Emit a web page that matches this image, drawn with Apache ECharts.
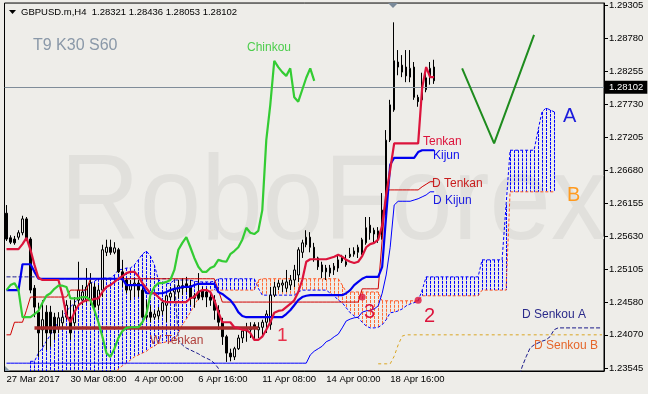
<!DOCTYPE html>
<html><head><meta charset="utf-8">
<script src="https://cdn.jsdelivr.net/npm/echarts@6/dist/echarts.min.js"></script>
<style>html,body{margin:0;padding:0;background:#eeede9;}#c{width:648px;height:394px;}</style>
</head><body><div id="c"></div>
<script>
// ---- data (prices) ----
const timeLabels = [[0,'27 Mar 2017'],[16,'30 Mar 08:00'],[32,'4 Apr 00:00'],[48,'6 Apr 16:00'],[64,'11 Apr 08:00'],[80,'14 Apr 00:00'],[96,'18 Apr 16:00']];
const priceTicks = [1.23545,1.24070,1.24580,1.25105,1.25630,1.26155,1.26680,1.27205,1.27730,1.28255,1.28780,1.29305];
const lastPrice = 1.28102;
// [open, close, low, high]
const candles = [
[1.2600,1.2559,1.2556,1.2613],[1.2561,1.2554,1.2551,1.2565],[1.2559,1.2553,1.2550,1.2564],[1.2562,1.2569,1.2558,1.2573],
[1.2569,1.2591,1.2565,1.2596],[1.2591,1.2559,1.2556,1.2594],[1.2559,1.2478,1.2473,1.2562],[1.2481,1.2451,1.2435,1.2486],
[1.2443,1.2410,1.2372,1.2458],[1.2415,1.2431,1.2388,1.2462],[1.2443,1.2410,1.2383,1.2454],[1.2443,1.2410,1.2388,1.2453],
[1.2435,1.2410,1.2399,1.2442],[1.2418,1.2434,1.2410,1.2443],[1.2426,1.2435,1.2419,1.2446],[1.2435,1.2454,1.2431,1.2462],
[1.2435,1.2410,1.2399,1.2462],[1.2426,1.2454,1.2421,1.2467],[1.2462,1.2478,1.2454,1.2523],[1.2462,1.2475,1.2454,1.2486],
[1.2462,1.2483,1.2458,1.2513],[1.2462,1.2489,1.2454,1.2505],[1.2483,1.2451,1.2446,1.2489],[1.2454,1.2478,1.2446,1.2486],
[1.2478,1.2542,1.2467,1.2550],[1.2538,1.2546,1.2532,1.2558],[1.2546,1.2538,1.2534,1.2558],[1.2538,1.2545,1.2535,1.2554],
[1.2542,1.2507,1.2505,1.2545],[1.2507,1.2494,1.2483,1.2526],[1.2494,1.2478,1.2473,1.2497],[1.2478,1.2486,1.2462,1.2494],
[1.2486,1.2489,1.2467,1.2497],[1.2489,1.2478,1.2467,1.2494],[1.2478,1.2435,1.2434,1.2481],[1.2438,1.2435,1.2431,1.2462],
[1.2443,1.2435,1.2427,1.2454],[1.2435,1.2440,1.2431,1.2446],[1.2437,1.2445,1.2431,1.2451],[1.2445,1.2458,1.2438,1.2462],
[1.2454,1.2469,1.2427,1.2470],[1.2467,1.2473,1.2462,1.2483],[1.2475,1.2480,1.2459,1.2486],[1.2475,1.2485,1.2465,1.2494],
[1.2481,1.2485,1.2470,1.2497],[1.2488,1.2483,1.2475,1.2499],[1.2485,1.2465,1.2454,1.2494],[1.2469,1.2465,1.2450,1.2473],
[1.2475,1.2465,1.2462,1.2505],[1.2477,1.2467,1.2462,1.2483],[1.2475,1.2467,1.2451,1.2481],[1.2467,1.2462,1.2453,1.2475],
[1.2462,1.2446,1.2431,1.2470],[1.2446,1.2427,1.2415,1.2454],[1.2427,1.2404,1.2391,1.2434],[1.2404,1.2378,1.2364,1.2407],
[1.2378,1.2372,1.2365,1.2385],[1.2372,1.2385,1.2367,1.2388],[1.2385,1.2402,1.2383,1.2407],[1.2402,1.2413,1.2394,1.2418],
[1.2413,1.2418,1.2396,1.2426],[1.2415,1.2419,1.2402,1.2427],[1.2423,1.2419,1.2399,1.2427],[1.2415,1.2419,1.2402,1.2427],
[1.2419,1.2427,1.2404,1.2431],[1.2427,1.2440,1.2410,1.2446],[1.2423,1.2470,1.2415,1.2483],[1.2470,1.2483,1.2467,1.2491],
[1.2483,1.2489,1.2478,1.2494],[1.2486,1.2489,1.2475,1.2494],[1.2481,1.2491,1.2475,1.2510],[1.2486,1.2494,1.2478,1.2502],
[1.2494,1.2510,1.2483,1.2518],[1.2502,1.2542,1.2491,1.2546],[1.2538,1.2553,1.2529,1.2558],[1.2550,1.2562,1.2546,1.2573],
[1.2562,1.2546,1.2538,1.2570],[1.2546,1.2529,1.2523,1.2553],[1.2529,1.2515,1.2510,1.2531],[1.2518,1.2507,1.2497,1.2523],
[1.2513,1.2507,1.2494,1.2518],[1.2505,1.2513,1.2499,1.2518],[1.2510,1.2516,1.2502,1.2521],[1.2513,1.2526,1.2507,1.2534],
[1.2529,1.2524,1.2521,1.2534],[1.2518,1.2523,1.2515,1.2534],[1.2531,1.2535,1.2529,1.2545],[1.2535,1.2540,1.2531,1.2546],
[1.2538,1.2546,1.2529,1.2550],[1.2537,1.2558,1.2534,1.2561],[1.2553,1.2577,1.2550,1.2594],[1.2581,1.2569,1.2558,1.2594],
[1.2573,1.2567,1.2554,1.2577],[1.2564,1.2572,1.2553,1.2578],[1.2565,1.2605,1.2558,1.2632],[1.2602,1.2716,1.2597,1.2732],
[1.2716,1.2772,1.2713,1.2780],[1.2764,1.2842,1.2761,1.2903],[1.2840,1.2832,1.2819,1.2859],[1.2835,1.2824,1.2816,1.2851],
[1.2832,1.2818,1.2808,1.2859],[1.2816,1.2830,1.2808,1.2859],[1.2832,1.2784,1.2780,1.2840],[1.2784,1.2777,1.2769,1.2788],
[1.2780,1.2796,1.2772,1.2823],[1.2796,1.2815,1.2792,1.2827],[1.2816,1.2830,1.2804,1.2840],[1.28321,1.28102,1.28053,1.28436]
];
const tenkan = [
1.2543,1.2543,1.2543,1.2543,1.2551,1.2561,1.2542,1.2518,1.2497,1.2494,1.2494,1.2494,1.2494,1.2494,1.2470,1.2438,
1.2427,1.2443,1.2454,1.2459,1.2462,1.2462,1.2464,1.2465,1.2475,1.2483,1.2486,1.2491,1.2496,1.2500,1.2505,1.2507,
1.2507,1.2500,1.2489,1.2481,1.2473,1.2473,1.2467,1.2461,1.2459,1.2459,1.2459,1.2459,1.2459,1.2459,1.2465,1.2467,
1.2475,1.2478,1.2478,1.2475,1.2462,1.2443,1.2427,1.2427,1.2427,1.2419,1.2418,1.2415,1.2415,1.2410,1.2399,1.2399,
1.2404,1.2415,1.2427,1.2442,1.2445,1.2446,1.2451,1.2456,1.2462,1.2475,1.2494,1.2523,1.2527,1.2527,1.2527,1.2527,
1.2527,1.2529,1.2531,1.2534,1.2531,1.2526,1.2523,1.2521,1.2523,1.2532,1.2546,1.2551,1.2553,1.2558,1.2581,1.2629,
1.2669,1.2711,1.2711,1.2711,1.2711,1.2711,1.2711,1.2711,1.2799,1.2832,1.2816,1.2816
];
const kijun = [
1.2478,1.2478,1.2478,1.2478,1.2519,1.2519,1.2519,1.2507,1.2496,1.2496,1.2496,1.2496,1.2496,1.2496,1.2496,1.2496,
1.2496,1.2496,1.2496,1.2496,1.2496,1.2496,1.2496,1.2496,1.2496,1.2496,1.2496,1.2496,1.2496,1.2496,1.2486,1.2486,
1.2486,1.2486,1.2486,1.2473,1.2473,1.2473,1.2473,1.2473,1.2475,1.2478,1.2480,1.2481,1.2483,1.2483,1.2483,1.2486,
1.2488,1.2488,1.2488,1.2488,1.2488,1.2475,1.2472,1.2467,1.2462,1.2454,1.2443,1.2437,1.2435,1.2435,1.2435,1.2435,
1.2435,1.2435,1.2435,1.2435,1.2435,1.2435,1.2440,1.2446,1.2454,1.2462,1.2467,1.2469,1.2470,1.2470,1.2470,1.2470,
1.2470,1.2470,1.2470,1.2470,1.2470,1.2473,1.2478,1.2486,1.2491,1.2496,1.2499,1.2499,1.2499,1.2499,1.2515,1.2597,
1.2677,1.2688,1.2688,1.2688,1.2688,1.2688,1.2688,1.2697,1.2700,1.2700,1.2700,1.2700
];
const senkouA = [
null,null,null,null,null,null,1.2365,1.2365,1.2378,1.2386,1.2397,1.2407,1.2418,1.2427,1.2435,1.2445,
1.2451,1.2458,1.2464,1.2472,1.2483,1.2489,1.2492,1.2496,1.2497,1.2497,1.2497,1.2502,1.2510,1.2511,1.2513,1.2513,
1.2518,1.2526,1.2535,1.2540,1.2532,1.2518,1.2494,1.2491,1.2488,1.2489,1.2494,1.2494,1.2494,1.2494,1.2494,1.2492,
1.2491,1.2491,1.2491,1.2491,1.2492,1.2496,1.2496,1.2496,1.2496,1.2496,1.2496,1.2496,1.2496,1.2496,1.2496,1.2481,
1.2470,1.2470,1.2470,1.2470,1.2470,1.2470,1.2470,1.2470,1.2470,1.2475,1.2478,1.2478,1.2478,1.2478,1.2478,1.2478,
1.2478,1.2473,1.2469,1.2462,1.2458,1.2450,1.2442,1.2437,1.2434,1.2427,1.2421,1.2418,1.2418,1.2419,1.2423,1.2431,
1.2442,1.2443,1.2445,1.2448,1.2453,1.2456,1.2458,1.2461,1.2478,1.2499,1.2499,1.2499,1.2499,1.2499,1.2499,1.2499,
1.2499,1.2499,1.2499,1.2499,1.2499,1.2499,1.2499,1.2526,1.2526,1.2526,1.2526,1.2526,1.2526,1.2613,1.2700,1.2700,
1.2700,1.2700,1.2700,1.2700,1.2700,1.2732,1.2761,1.2767,1.2764,1.2761
];
const senkouB = [
1.2340,1.2340,1.2340,1.2340,1.2340,1.2340,1.2340,1.2340,1.2340,1.2340,1.2340,1.2340,1.2340,1.2340,1.2340,1.2340,
1.2340,1.2340,1.2340,1.2340,1.2340,1.2340,1.2340,1.2340,1.2340,1.2340,1.2340,1.2340,1.2353,1.2358,1.2362,1.2367,
1.2372,1.2375,1.2378,1.2381,1.2386,1.2389,1.2394,1.2394,1.2396,1.2396,1.2399,1.2410,1.2423,1.2432,1.2443,1.2454,
1.2465,1.2473,1.2478,1.2478,1.2478,1.2478,1.2478,1.2478,1.2478,1.2478,1.2478,1.2478,1.2478,1.2478,1.2478,1.2494,
1.2496,1.2496,1.2496,1.2496,1.2496,1.2496,1.2496,1.2496,1.2496,1.2496,1.2496,1.2496,1.2496,1.2496,1.2496,1.2496,
1.2496,1.2496,1.2496,1.2496,1.2486,1.2475,1.2475,1.2475,1.2475,1.2475,1.2475,1.2475,1.2475,1.2475,1.2461,1.2461,
1.2461,1.2461,1.2461,1.2461,1.2461,1.2461,1.2461,1.2461,1.2469,1.2469,1.2469,1.2469,1.2469,1.2469,1.2469,1.2469,
1.2469,1.2469,1.2469,1.2469,1.2469,1.2469,1.2469,1.2478,1.2478,1.2478,1.2478,1.2478,1.2478,1.2478,1.2634,1.2634,
1.2634,1.2634,1.2634,1.2634,1.2634,1.2634,1.2634,1.2634,1.2634,1.2634
];
const dTenkan = [
1.2407,1.2407,1.2427,1.2427,1.2427,1.2446,1.2467,1.2467,1.2467,1.2467,1.2467,1.2467,1.2467,1.2467,1.2467,1.2467,
1.2478,1.2478,1.2478,1.2478,1.2478,1.2496,1.2496,1.2496,1.2496,1.2496,1.2496,1.2496,1.2496,1.2496,1.2496,1.2496,
1.2496,1.2496,1.2496,1.2496,1.2496,1.2496,1.2496,1.2496,1.2496,1.2496,1.2496,1.2496,1.2496,1.2496,1.2496,1.2496,
1.2496,1.2496,1.2496,1.2496,1.2496,1.2478,1.2459,1.2459,1.2459,1.2459,1.2459,1.2459,1.2459,1.2459,1.2459,1.2459,
1.2459,1.2459,1.2459,1.2459,1.2459,1.2459,1.2459,1.2459,1.2459,1.2459,1.2459,1.2459,1.2459,1.2459,1.2459,1.2459,
1.2459,1.2459,1.2459,1.2459,1.2459,1.2459,1.2459,1.2459,1.2459,1.2480,1.2480,1.2480,1.2480,1.2480,1.2558,1.2637,
1.2637,1.2637,1.2637,1.2637,1.2637,1.2637,1.2637,1.2637,1.2642,1.2646,1.2650,1.2650
];
const dKijun = [
1.2362,1.2362,1.2362,1.2362,1.2362,1.2362,1.2362,1.2362,1.2362,1.2362,1.2362,1.2362,1.2362,1.2362,1.2362,1.2362,
1.2362,1.2362,1.2362,1.2362,1.2362,1.2362,1.2362,1.2362,1.2362,1.2362,1.2362,1.2362,1.2362,1.2362,1.2362,1.2362,
1.2362,1.2362,1.2362,1.2362,1.2362,1.2362,1.2362,1.2362,1.2362,1.2362,1.2362,1.2362,1.2362,1.2362,1.2362,1.2362,
1.2362,1.2362,1.2362,1.2362,1.2362,1.2362,1.2362,1.2362,1.2362,1.2362,1.2362,1.2362,1.2362,1.2362,1.2362,1.2362,
1.2362,1.2362,1.2362,1.2362,1.2362,1.2362,1.2362,1.2362,1.2362,1.2362,1.2362,1.2362,1.2375,1.2381,1.2385,1.2389,
1.2396,1.2399,1.2404,1.2408,1.2418,1.2429,1.2432,1.2434,1.2435,1.2443,1.2445,1.2446,1.2448,1.2453,1.2473,1.2502,
1.2546,1.2613,1.2619,1.2619,1.2619,1.2619,1.2621,1.2623,1.2626,1.2629,1.2634,1.2634
];
const dSenkouA = [
1.2499,1.2499,1.2499,1.2499,1.2499,1.2499,1.2499,1.2499,1.2499,1.2496,1.2496,1.2496,1.2496,1.2496,1.2496,1.2496,
1.2496,1.2496,1.2496,1.2496,1.2496,1.2496,1.2496,1.2496,1.2496,1.2496,1.2496,1.2496,1.2496,1.2496,1.2496,1.2496,
1.2496,1.2496,1.2496,1.2496,1.2496,1.2496,1.2496,1.2496,1.2496,1.2496,1.2496,1.2399,1.2391,1.2386,1.2383,1.2380,
1.2377,1.2373,1.2370,1.2367,1.2362,1.2354,1.2335,null,null,null,null,null,null,null,null,null,
null,null,null,null,null,null,null,null,null,null,null,null,null,null,null,null,
null,null,null,null,null,null,null,null,null,null,null,null,null,null,null,null,
null,null,null,null,null,null,null,null,null,null,null,null,null,null,null,null,
null,null,null,null,null,null,null,null,null,null,null,null,null,null,null,null,
1.2335,1.2356,1.2372,1.2386,1.2391,1.2394,1.2397,1.2399,1.2404,1.2415,1.2418,1.2418,1.2418,1.2418,1.2418,1.2418,
1.2418,1.2418,1.2418,1.2418,1.2418,1.2418
];
const dSenkouB = [
null,null,null,null,null,null,null,null,null,null,null,null,null,null,null,null,
null,null,null,null,null,null,null,null,null,null,null,null,null,null,null,null,
null,null,null,null,null,null,null,null,null,null,null,null,null,null,null,null,
null,null,null,null,null,null,null,null,null,null,null,null,null,null,null,null,
null,null,null,null,null,null,null,null,null,null,null,null,null,null,null,null,
null,null,null,null,null,null,null,null,null,null,null,null,null,1.2361,1.2361,1.2361,
1.2361,1.2373,1.2391,1.2405,1.2407,1.2407,1.2407,1.2407,1.2407,1.2407,1.2407,1.2407,1.2407,1.2407,1.2407,1.2407,
1.2407,1.2407,1.2407,1.2407,1.2407,1.2407,1.2407,1.2407,1.2407,1.2407,1.2407,1.2407,1.2407,1.2407,1.2407,1.2407,
1.2407,1.2407,1.2407,1.2407,1.2407,1.2407,1.2407,1.2407,1.2407,1.2407,1.2407,1.2407,1.2407,1.2407,1.2407,1.2407,
1.2407,1.2407,1.2407,1.2407,1.2407,1.2407
];
const wTenkan = [[7,1.2418],[63,1.2418]];
const forecastPath = [[114,1.2830],[122,1.2711],[132,1.2883]];
const crossPoints = [[89,1.2467],[103,1.2462]];
const CHINKOU_SHIFT = 30;
const BAR_COUNT = 150;

// ---- build ----
const BG = '#eeede9';
const FONT = '"Liberation Sans", Arial, sans-serif';
const labelMap = {}; timeLabels.forEach(t => labelMap[t[0]] = t[1]);
const cats = Array.from({length: BAR_COUNT}, (_, i) => labelMap[i] || '');
const chinkou = candles.slice(CHINKOU_SHIFT).map(c => c[1]);
const cloud = [];
senkouA.forEach((a, i) => { if (a != null && senkouB[i] != null) cloud.push([i, a, senkouB[i]]); });

function lineSeries(data, color, width, type, z) {
  return {type: 'line', data, symbol: 'none', showSymbol: false, silent: true, animation: false,
    connectNulls: false, z, lineStyle: {color, width, type}, itemStyle: {color}, emphasis: {disabled: true}};
}
function txt(x, y, text, fill, size, z) {
  return {type: 'text', x, y, z: z == null ? 100 : z, silent: true,
    style: {text, fill, font: size + 'px ' + FONT, textAlign: 'left', textVerticalAlign: 'middle', verticalAlign: 'middle'}};
}

const chart = echarts.init(document.getElementById('c'), null, {renderer: 'canvas', width: 648, height: 394});
chart.setOption({
  backgroundColor: BG,
  animation: false,
  grid: {left: 4.5, right: 44, top: 3, bottom: 23, show: true, borderColor: '#000', borderWidth: 1, backgroundColor: 'transparent'},
  xAxis: {
    type: 'category', data: cats, boundaryGap: true,
    axisLine: {lineStyle: {color: '#000', width: 1}},
    axisTick: {alignWithLabel: true, length: 4, lineStyle: {color: '#000'}, interval: (i, v) => v !== ''},
    axisLabel: {interval: (i, v) => v !== '', align: 'left', margin: 3, fontSize: 9.5, fontFamily: FONT, color: '#000'},
    splitLine: {show: false}
  },
  yAxis: {
    type: 'value', position: 'right', min: 1.23496, max: 1.29336, scale: true,
    axisLine: {show: true, lineStyle: {color: '#000'}},
    axisTick: {show: true, length: 4, lineStyle: {color: '#000'}, customValues: priceTicks},
    axisLabel: {customValues: priceTicks, formatter: v => v.toFixed(5), fontSize: 9.5, fontFamily: FONT, color: '#000', margin: 5},
    splitLine: {show: false}
  },
  series: [
    {type: 'custom', z: 1, silent: true, animation: false, data: cloud, clip: true,
      renderItem: function (params, api) {
        const i = api.value(0), a = api.value(1), b = api.value(2);
        if (isNaN(a) || isNaN(b)) return null;
        const cs = params.coordSys;
        const pa = api.coord([i, a]), pb = api.coord([i, b]);
        const top = cs.y, bot = cs.y + cs.height;
        const y1 = Math.max(top, Math.min(bot, pa[1])), y2 = Math.max(top, Math.min(bot, pb[1]));
        if (Math.abs(y2 - y1) < 0.5) return null;
        const x = Math.floor(pa[0]) + 0.5;
        return {type: 'line', shape: {x1: x, y1: Math.min(y1, y2), x2: x, y2: Math.max(y1, y2)},
          style: {stroke: a >= b ? '#0000ff' : '#ff6a33', lineWidth: 1, lineDash: [3, 1]}};
      }},
    lineSeries(senkouA, '#0000ff', 1, [3, 2], 2),
    lineSeries(senkouB, '#ff5522', 1, [3, 2], 2),
    {type: 'candlestick', data: candles, z: 3, barWidth: 2, silent: true, animation: false,
      itemStyle: {color: BG, color0: '#000', borderColor: '#000', borderColor0: '#000', borderWidth: 1},
      markLine: {silent: true, symbol: ['none', 'none'], animation: false, data: [{yAxis: lastPrice}],
        lineStyle: {color: '#7f8c99', width: 1, type: 'solid'},
        label: {show: true, position: 'end', formatter: lastPrice.toFixed(5), color: '#fff', backgroundColor: '#000',
          padding: [2, 4, 1, 4], fontSize: 9.5, fontFamily: FONT, distance: 1}}},
    lineSeries(dSenkouA, '#1a1a8a', 1, [4, 2], 4),
    lineSeries(dSenkouB, '#daa520', 1, [3, 3], 4),
    lineSeries(dKijun, '#0000ff', 1, 'solid', 4),
    lineSeries(dTenkan, '#d00000', 1, 'solid', 4),
    lineSeries(wTenkan, '#a52a2a', 3.5, 'solid', 5),
    lineSeries(kijun, '#0000f0', 2.2, 'solid', 6),
    lineSeries(tenkan, '#dc143c', 2.2, 'solid', 7),
    lineSeries(chinkou, '#33cc33', 2.2, 'solid', 8),
    lineSeries(forecastPath, '#1e8c1e', 2, 'solid', 9),
    {type: 'scatter', data: crossPoints, symbolSize: 7, z: 10, silent: true, itemStyle: {color: '#dc143c'}}
  ],
  graphic: [
    {type: 'text', x: 60, y: 206, z: 0, silent: true, scaleX: 0.92,
      style: {text: 'RoboForex', fill: '#e1e0dc', font: '120px ' + FONT, textAlign: 'left', textVerticalAlign: 'middle', verticalAlign: 'middle'}},
    {type: 'polygon', z: 100, silent: true, shape: {points: [[9, 10], [16, 10], [12.5, 14]]}, style: {fill: '#000'}},
    txt(21, 12, 'GBPUSD.m,H4  1.28321 1.28436 1.28053 1.28102', '#000', 9.5),
    txt(33, 46, 'T9 K30 S60', '#8a98a8', 16),
    {type: 'polygon', z: 100, silent: true, shape: {points: [[388, 3], [398, 3], [393, 8]]}, style: {fill: '#7a8a9a'}},
    {type: 'polygon', z: 100, silent: true, shape: {points: [[5, 366], [5, 371], [10, 371]]}, style: {fill: '#8a9aaa'}},
    txt(247, 48, 'Chinkou', '#4ccd4c', 12),
    txt(423, 142, 'Tenkan', '#dc143c', 12),
    txt(433, 156, 'Kijun', '#1010ee', 12),
    txt(432, 184, 'D Tenkan', '#c81e1e', 12),
    txt(433, 201, 'D Kijun', '#1a1ae0', 12),
    txt(563, 116, 'A', '#1c1cdc', 20),
    txt(567, 195, 'B', '#ff9a1f', 20),
    txt(522, 315, 'D Senkou A', '#2a2a8a', 12),
    txt(534, 346, 'D Senkou B', '#e5662a', 12),
    txt(150, 341, 'W Tenkan', '#b0403c', 12),
    txt(277, 336, '1', '#e8304a', 19),
    txt(424, 316, '2', '#dc143c', 20),
    txt(364, 312, '3', '#dc143c', 20)
  ]
});
</script>
</body></html>
